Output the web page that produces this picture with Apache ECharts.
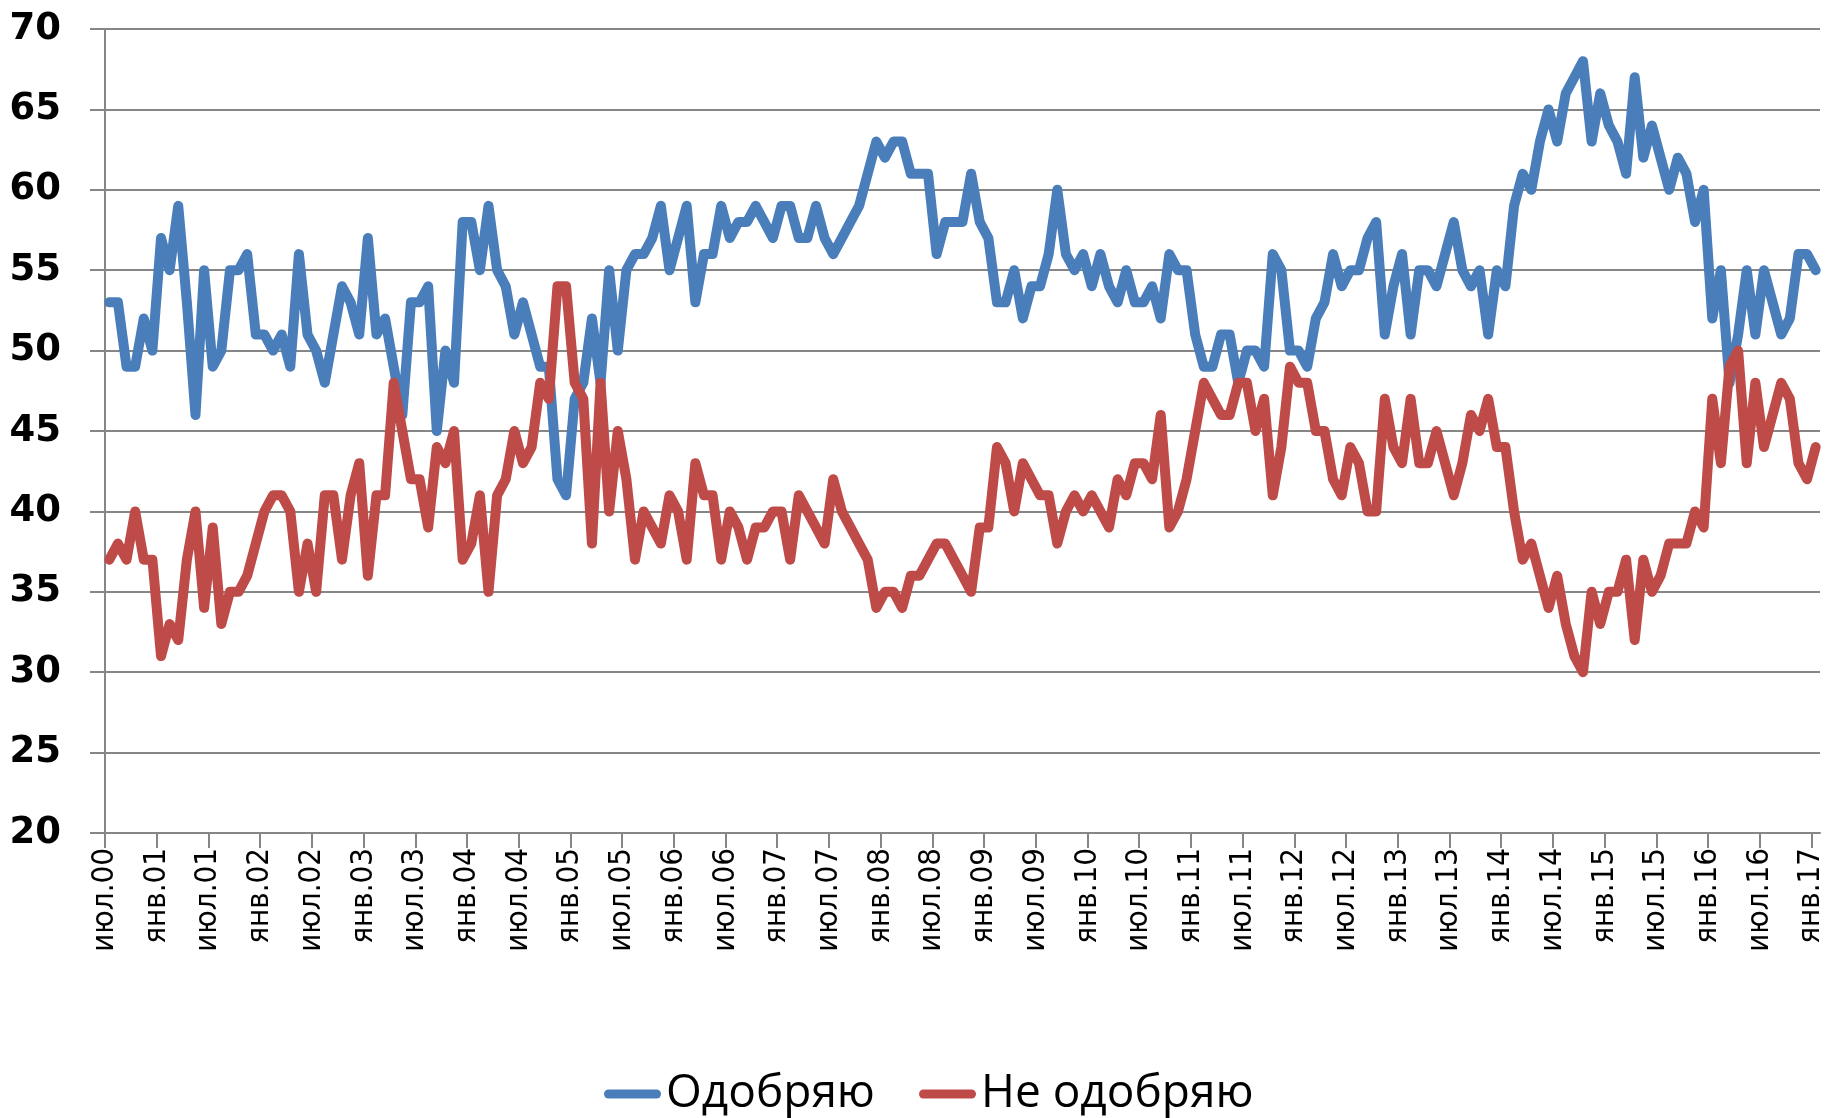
<!DOCTYPE html>
<html>
<head>
<meta charset="utf-8">
<script src="https://cdn.jsdelivr.net/npm/echarts@6/dist/echarts.min.js"></script>
<style>
html,body{margin:0;padding:0;background:#ffffff;}
#chart{width:1835px;height:1118px;}
</style>
</head>
<body>
<div id="chart"></div>
<script>
// Tick labels, one every 6 months starting July 2000
const tickLabels = [
  'июл.00','янв.01','июл.01','янв.02','июл.02','янв.03','июл.03','янв.04',
  'июл.04','янв.05','июл.05','янв.06','июл.06','янв.07','июл.07','янв.08',
  'июл.08','янв.09','июл.09','янв.10','июл.10','янв.11','июл.11','янв.12',
  'июл.12','янв.13','июл.13','янв.14','июл.14','янв.15','июл.15','янв.16',
  'июл.16','янв.17'
];

// Monthly values, July 2000 .. January 2017
const approve = [
  53,53,49,49,52,50,57,55,59,53,46,55,
  49,50,55,55,56,51,51,50,51,49,56,51,
  50,48,51,54,53,51,57,51,52,49,46,53,
  53,54,45,50,48,58,58,55,59,55,54,51,
  53,51,49,49,42,41,47,48,52,48,55,50,
  55,56,56,57,59,55,57,59,53,56,56,59,
  57,58,58,59,58,57,59,59,57,57,59,57,
  56,57,58,59,61,63,62,63,63,61,61,61,
  56,58,58,58,61,58,57,53,53,55,52,54,
  54,56,60,56,55,56,54,56,54,53,55,53,
  53,54,52,56,55,55,51,49,49,51,51,48,
  50,50,49,56,55,50,50,49,52,53,56,54,
  55,55,57,58,51,54,56,51,55,55,54,56,
  58,55,54,55,51,55,54,59,61,60,63,65,
  63,66,67,68,63,66,64,63,61,67,62,64,
  62,60,62,61,58,60,52,55,48,51,55,51,
  55,53,51,52,56,56,55
];

const disapprove = [
  37,38,37,40,37,37,31,33,32,37,40,34,
  39,33,35,35,36,38,40,41,41,40,35,38,
  35,41,41,37,41,43,36,41,41,48,45,42,
  42,39,44,43,45,37,38,41,35,41,42,45,
  43,44,48,47,54,54,48,47,38,48,40,45,
  42,37,40,39,38,41,40,37,43,41,41,37,
  40,39,37,39,39,40,40,37,41,40,39,38,
  42,40,39,38,37,34,35,35,34,36,36,37,
  38,38,37,36,35,39,39,44,43,40,43,42,
  41,41,38,40,41,40,41,40,39,42,41,43,
  43,42,46,39,40,42,45,48,47,46,46,48,
  48,45,47,41,44,49,48,48,45,45,42,41,
  44,43,40,40,47,44,43,47,43,43,45,43,
  41,43,46,45,47,44,44,40,37,38,36,34,
  36,33,31,30,35,33,35,35,37,32,37,35,
  36,38,38,38,40,39,47,43,49,50,43,48,
  44,46,48,47,43,42,44
];

const seriesNames = ['Одобряю', 'Не одобряю'];
const yTicks = { min: 20, max: 70, step: 5 };

// month index of each tick label (every 6 months)
const tickMonths = tickLabels.map((_, i) => i * 6);
// surveys are taken mid-month: place each point in the middle of its month
const toPoints = arr => arr.map((v, i) => [i + 0.5, v]);

const gridColor = '#868686';
const chart = echarts.init(document.getElementById('chart'), null, { renderer: 'canvas' });

chart.setOption({
  animation: false,
  backgroundColor: '#ffffff',
  grid: { left: 105, right: 15, top: 29, bottom: 285 },
  legend: {
    data: seriesNames,
    left: 599,
    top: 1066,
    itemGap: 44,
    itemWidth: 57,
    itemHeight: 9,
    icon: 'path://M4.5,0H52.5A4.5,4.5,0,0,1,52.5,9H4.5A4.5,4.5,0,0,1,4.5,0Z',
    textStyle: { fontFamily: 'Open Sans', fontSize: 46, color: '#000000' }
  },
  xAxis: {
    type: 'value',
    min: 0,
    max: tickMonths[tickMonths.length - 1] + 1,
    axisLine: { show: true, onZero: false, lineStyle: { color: gridColor, width: 2 } },
    splitLine: { show: false },
    axisTick: { show: true, length: 15, customValues: tickMonths, lineStyle: { color: gridColor, width: 2 } },
    axisLabel: {
      customValues: tickMonths,
      rotate: 90,
      margin: 15,
      fontFamily: "'Liberation Sans Narrow', 'DejaVu Sans Condensed', 'Open Sans', sans-serif",
      fontSize: 31,
      color: '#000000',
      formatter: v => tickLabels[Math.round(v / 6)]
    }
  },
  yAxis: {
    type: 'value',
    min: yTicks.min,
    max: yTicks.max,
    interval: yTicks.step,
    axisLine: { show: true, lineStyle: { color: gridColor, width: 2 } },
    axisTick: { show: true, length: 15, lineStyle: { color: gridColor, width: 2 } },
    splitLine: { show: true, lineStyle: { color: gridColor, width: 2 } },
    axisLabel: {
      margin: 44,
      fontFamily: 'DejaVu Sans',
      fontWeight: 'bold',
      fontSize: 37,
      color: '#000000'
    }
  },
  series: [
    {
      name: seriesNames[0],
      type: 'line',
      data: toPoints(approve),
      showSymbol: false,
      connectNulls: true,
      color: '#4A7EBB',
      lineStyle: { width: 10, color: '#4A7EBB', cap: 'round', join: 'round' },
      z: 2
    },
    {
      name: seriesNames[1],
      type: 'line',
      data: toPoints(disapprove),
      showSymbol: false,
      connectNulls: true,
      color: '#BE4B48',
      lineStyle: { width: 10, color: '#BE4B48', cap: 'round', join: 'round' },
      z: 3
    }
  ]
});
</script>
</body>
</html>
